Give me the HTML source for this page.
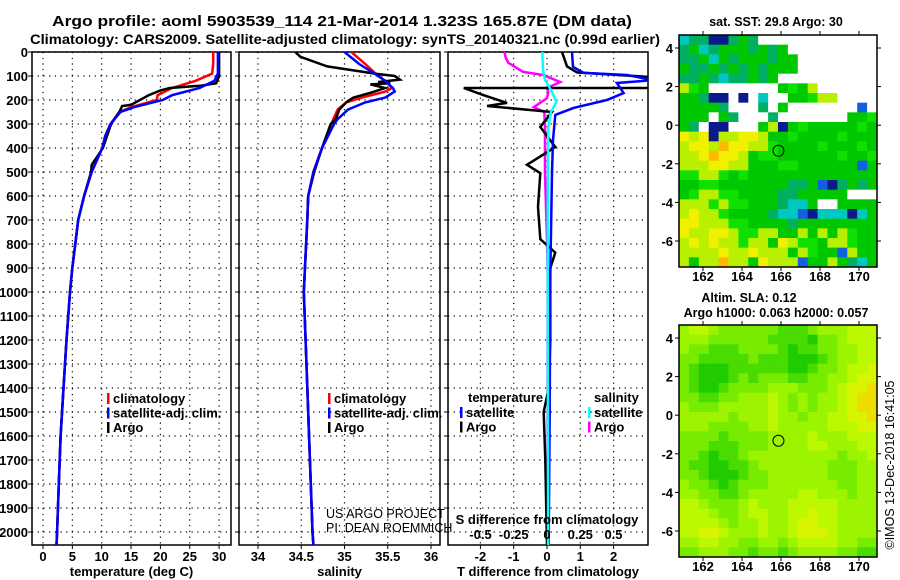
<!DOCTYPE html>
<html><head><meta charset="utf-8"><style>
html,body{margin:0;padding:0;background:#fff;}
svg{display:block;font-family:"Liberation Sans",Arial,sans-serif;font-weight:bold;}
</style></head><body>
<svg id="s" width="900" height="580" viewBox="0 0 900 580" xmlns="http://www.w3.org/2000/svg">
<text x="342" y="26" text-anchor="middle" font-size="14.5" textLength="580" lengthAdjust="spacingAndGlyphs">Argo profile: aoml 5903539_114 21-Mar-2014 1.323S 165.87E (DM data)</text>
<text x="345" y="44" text-anchor="middle" font-size="14" textLength="630" lengthAdjust="spacingAndGlyphs">Climatology: CARS2009. Satellite-adjusted climatology: synTS_20140321.nc (0.99d earlier)</text>
</svg>
<script>
// ===== data =====
const tempDepth=[0,50,90,120,150,180,200,230,250,300,350,400,500,600,700,800,900,1000,1200,1400,1600,1800,2000,2054];
const tempClim=[29,29,28.8,26,22,19.5,19.4,15,13,11.5,10.6,10.1,8.3,7,6,5.5,5,4.6,4,3.5,3,2.7,2.4,2.3];
const tempSat=[29.8,29.8,29.8,29.2,26.7,22,20.4,15.5,13.2,11.5,10.6,10.1,8.3,7,6,5.5,5,4.6,4,3.5,3,2.7,2.4,2.3];
const argoTDepth=[0,100,130,140,150,160,180,200,220,225,250,300,400,430,470,500,600,700,800,900,1000,1200,1400,1600,1800,2000,2054];
const argoT=[30,30,29.5,27,21.6,20,18,16.5,15,13.5,13,11.6,10.2,9.4,8.3,8.2,7,6,5.5,5,4.6,4,3.5,3,2.7,2.4,2.3];
const salDepth=[0,50,100,120,150,165,190,210,240,280,300,400,500,600,700,1000,1200,1500,2000,2054];
const salClim=[35.08,35.24,35.39,35.47,35.55,35.47,35.2,35.02,34.92,34.87,34.85,34.74,34.64,34.58,34.57,34.53,34.55,34.58,34.63,34.64];
const salSat=[35.0,35.17,35.39,35.47,35.56,35.58,35.47,35.24,35.04,34.92,34.88,34.74,34.64,34.58,34.57,34.53,34.55,34.58,34.63,34.64];
const argoSDepth=[0,20,60,90,100,115,125,130,135,150,170,190,210,240,280,300,400,500,600,700,1000,1200,1500,2000,2054];
const argoS=[34.43,34.49,34.8,35.35,35.58,35.64,35.39,35.53,35.3,35.47,35.3,35.1,35.02,34.94,34.9,34.84,34.74,34.65,34.58,34.57,34.53,34.55,34.58,34.63,34.64];
const dArgoTDepth=[0,60,85,105,150,150,180,212,225,250,312,396,470,505,645,780,836,900,1000,1200,1400,1500,1700,2054];
const dArgoT=[0.45,0.6,0.9,3.2,3.2,-2.5,-1.9,-1.2,-1.8,0.15,-0.2,0.25,-0.6,-0.2,-0.27,-0.2,0.25,0.1,0.1,0.1,0.05,-0.1,-0.05,0];
const dSatTDepth=[0,62,87,96,117,129,171,200,233,262,367,504,921,1500,2054];
const dSatT=[0.75,0.78,1.1,2.4,3.2,2.1,2.3,1.8,0.8,0.25,0.18,0.15,0.1,0.08,0.05];
const dArgoSDepth=[0,25,45,83,96,125,150,167,192,230,250,312,504,783,921,2054];
const dArgoS=[-0.32,-0.31,-0.29,-0.18,-0.03,0.1,0.0,0.01,0.0,-0.1,-0.02,-0.015,-0.015,0.0,0.005,0.005];
const dSatSDepth=[0,75,117,158,208,250,312,646,2054];
const dSatS=[-0.035,-0.03,-0.015,0.03,0.07,0.03,0.01,0.005,0.008];
const depthTicks=[0,100,200,300,400,500,600,700,800,900,1000,1100,1200,1300,1400,1500,1600,1700,1800,1900,2000];
const tempTicks=[0,5,10,15,20,25,30];
const salTicks=[34,34.5,35,35.5,36];
const tdTicks=[-2,-1,0,1,2];
const sdTicks=[-0.5,-0.25,0,0.25,0.5];
const latTicks=[4,2,0,-2,-4,-6];
const lonTicks=[162,164,166,168,170];
const sstGrid=[
"34411454000000000000","45345554545000000000","44535455545500000000","54454545455500000000",
"44543445450000000000","76500000005657000000","55411010300556770000","55554000405000000020",
"55505400040000000556","54011000571565555565","87817788755655556555","78879887765555655565",
"77898875665555556556","77788775556655555525","66776565555555555555","55665555555445214545",
"56776655554455555000","77767665554335005555","78776555543321333135","88777665555455555555",
"87788766775575757655","78787767758766577655","77778778777576552755","75779775877725575435"];
const slaGrid=[
"45543333332223444555","44433333322221334555","43322233332122334455","33222223222111234455",
"32111222222112334556","32111232333223344566","32112333344433345667","33223344454343445677",
"43334444454343445677","44444344454434455667","44433334454444455566","33332333344445444555",
"33322233344445544455","33212234444444443445","32211223444444433344","33211123344444433344",
"43321233344444443344","44332234444455444344","55433345444555554444","55543345544556554444",
"55554344544566554444","55665444544566654444","44554433443455554433","33444332332344443322"];
const argoLon=165.87, argoLat=-1.323;
// ===== helpers =====
const NS="http://www.w3.org/2000/svg";
const svg=document.getElementById('s');
function mk(tag,at,parent){const e=document.createElementNS(NS,tag);for(const k in at)e.setAttribute(k,at[k]);(parent||svg).appendChild(e);return e;}
function txt(x,y,s,size,anchor,parent){const t=mk('text',{x:x,y:y,'font-size':size,'text-anchor':anchor||'middle'},parent);t.textContent=s;return t;}
const yD=d=>52+d*0.24;
const PT=52, PB=545;
function panel(id,x0,x1,xfun,xticks,xlabels,xtitle,showDepth){
  const g=mk('g',{});
  
  
  const cp=mk('clipPath',{id:'clip-'+id},g);mk('rect',{x:x0,y:PT,width:x1-x0,height:PB-PT},cp);
  depthTicks.forEach(d=>{
    const l=mk('line',{x1:x0,x2:x1,y1:yD(d),y2:yD(d),stroke:'#000','stroke-width':1.2,'stroke-dasharray':'1.2,4.5'},g);
    
    mk('line',{x1:x0-4,x2:x0,y1:yD(d),y2:yD(d),stroke:'#000','stroke-width':1},g);
    if(showDepth){const t=txt(28,yD(d)+5,String(d),13,'end',g);}
  });
  xticks.forEach((v,i)=>{
    const x=xfun(v);
    const l=mk('line',{x1:x,x2:x,y1:PT,y2:PB,stroke:'#000','stroke-width':1.2,'stroke-dasharray':'1.2,4.5'},g);
    
    mk('line',{x1:x,x2:x,y1:PB,y2:PB+4,stroke:'#000','stroke-width':1},g);
    const t=txt(x,561,xlabels[i],13,'middle',g);
  });
  const f=mk('rect',{x:x0,y:PT,width:x1-x0,height:PB-PT,fill:'none',stroke:'#000','stroke-width':1.5},g);
  
  const tt=txt((x0+x1)/2,576,xtitle,13,'middle',g);
  return g;
}
function line(g,id,depths,vals,xfun,color,w){
  const pts=depths.map((d,i)=>xfun(vals[i]).toFixed(1)+','+yD(d).toFixed(1)).join(' ');
  const p=mk('polyline',{points:pts,fill:'none',stroke:color,'stroke-width':w||2.5,'clip-path':'url(#clip-'+id+')','stroke-linejoin':'miter'},g);
  return p;
}
function legend(g,x,y,items){
  items.forEach((it,i)=>{
    mk('rect',{x:x,y:y+i*14.5-10,width:2.5,height:11,fill:it[1]},g);
    const t=txt(x+6,y+i*14.5,it[0],13,'start',g);
    
  });
}
// ===== panel 1: temperature =====
const xT=v=>43+v*5.87;
const g1=panel('temperature',32,231,xT,tempTicks,tempTicks.map(String),'temperature (deg C)',true);
let p;
p=line(g1,'temperature',tempDepth,tempClim,xT,'#f00');
p=line(g1,'temperature',argoTDepth,argoT,xT,'#000');
p=line(g1,'temperature',tempDepth,tempSat,xT,'#00f');
legend(g1,107,403,[['climatology','#f00'],['satellite-adj. clim.','#00f'],['Argo','#000']]);
// ===== panel 2: salinity =====
const xS=v=>258+(v-34)*86.5;
const g2=panel('salinity',239,440,xS,salTicks,salTicks.map(String),'salinity',false);
p=line(g2,'salinity',salDepth,salClim,xS,'#f00');
p=line(g2,'salinity',argoSDepth,argoS,xS,'#000');
p=line(g2,'salinity',salDepth,salSat,xS,'#00f');
legend(g2,328,403,[['climatology','#f00'],['satellite-adj. clim.','#00f'],['Argo','#000']]);
let c1=txt(326,518,'US ARGO PROJECT',12.5,'start',g2);c1.setAttribute('font-weight','normal');
let c2=txt(326,532,'PI: DEAN ROEMMICH',12.5,'start',g2);c2.setAttribute('font-weight','normal');
// ===== panel 3: differences =====
const xTD=v=>547+v*33.3;
const xSD=v=>547+v*133;
const g3=panel('difference',448,648,xTD,tdTicks,tdTicks.map(String),'T difference from climatology',false);
p=line(g3,'difference',dArgoSDepth,dArgoS,xSD,'#f0f');
p=line(g3,'difference',dArgoTDepth,dArgoT,xTD,'#000');
p=line(g3,'difference',dSatTDepth,dSatT,xTD,'#00f');
p=line(g3,'difference',dSatSDepth,dSatS,xSD,'#0ff');
let lt=txt(468,402,'temperature',13,'start',g3);
legend(g3,460,417,[['satellite','#00f'],['Argo','#000']]);
let ls=txt(594,402,'salinity',13,'start',g3);
legend(g3,588,417,[['satellite','#0ff'],['Argo','#f0f']]);
let sdt=txt(547,524,'S difference from climatology',13,'middle',g3);
sdTicks.forEach(v=>{const t=txt(xSD(v),539,String(v),13,'middle',g3);});
// ===== maps =====
const sstPal={'0':'#ffffff','1':'#0a1a8c','2':'#1060e0','3':'#00c8c0','4':'#00b060','5':'#00c800','6':'#10e000','7':'#b8f000','8':'#f0f000','9':'#ffb800'};
const slaPal={'1':'#20cc00','2':'#48dc00','3':'#78ec00','4':'#9cf400','5':'#bcf800','6':'#d8f400','7':'#ecdc00'};
function map(id,top,bottom,grid,pal){
  const g=mk('g',{});
  
  
  const L=679,R=877;
  const lat0=(top===35)?48:338, lat6=(top===35)?241:531;
  const yL=v=>lat0+(4-v)*(lat6-lat0)/10;
  const xL=v=>703+(v-162)*19.5;
  const rows=grid.length, cols=grid[0].length;
  const cw=(R-L)/cols, ch=(bottom-top)/rows;
  grid.forEach((row,r)=>{for(let c=0;c<cols;c++){
    const cell=mk('rect',{x:(L+c*cw).toFixed(2),y:(top+r*ch).toFixed(2),width:(cw+0.4).toFixed(2),height:(ch+0.4).toFixed(2),fill:pal[row[c]]},g);
    
    
  }});
  const fr=mk('rect',{x:L,y:top,width:R-L,height:bottom-top,fill:'none',stroke:'#000','stroke-width':1.5},g);
  
  latTicks.forEach(v=>{
    mk('line',{x1:L-4,x2:L,y1:yL(v),y2:yL(v),stroke:'#000'},g);
    mk('line',{x1:R,x2:R+4,y1:yL(v),y2:yL(v),stroke:'#000'},g);
    const t=txt(673,yL(v)+5,String(v),13,'end',g);
  });
  lonTicks.forEach(v=>{
    mk('line',{x1:xL(v),x2:xL(v),y1:top-4,y2:top,stroke:'#000'},g);
    mk('line',{x1:xL(v),x2:xL(v),y1:bottom,y2:bottom+4,stroke:'#000'},g);
    const t=txt(xL(v),bottom+14,String(v),13,'middle',g);
  });
  const m=mk('circle',{cx:xL(argoLon),cy:yL(argoLat),r:5.5,fill:'none',stroke:'#000','stroke-width':1},g);
  
}
map('sst-map',35,267,sstGrid,sstPal);
map('sla-map',325,557,slaGrid,slaPal);
let mt1=txt(776,26,'sat. SST: 29.8 Argo: 30',12.5,'middle');
let mt2=txt(749,302,'Altim. SLA: 0.12',12.5,'middle');
let mt3=txt(776,317,'Argo h1000: 0.063 h2000: 0.057',12.5,'middle');
let cr=txt(0,0,'©IMOS 13-Dec-2018 16:41:05',12.5,'middle');
cr.setAttribute('font-weight','normal');cr.setAttribute('transform','translate(894,465) rotate(-90)');

</script>
</body></html>
